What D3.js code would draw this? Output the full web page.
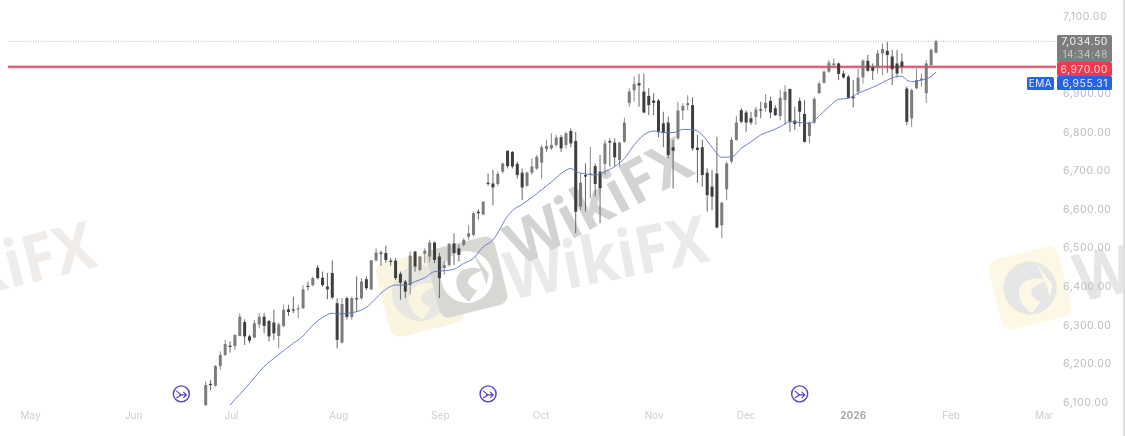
<!DOCTYPE html>
<html><head><meta charset="utf-8">
<style>html,body{margin:0;padding:0;background:#fff;overflow:hidden}svg{display:block;filter:blur(.62px)}</style>
<script src="https://cdn.jsdelivr.net/npm/d3@7"></script></head><body><svg id="c" width="1125" height="436"></svg>
<script>
const opens=[6092,6147,6142,6193,6222,6246,6245,6271,6307,6270,
6267,6301,6321,6310,6306,6271,6297,6340,6340,6340,
6343,6401,6403,6448,6422,6399,6434,6356,6254,6369,
6320,6369,6369,6418,6392,6467,6487,6486,6466,6466,
6432,6412,6403,6490,6442,6484,6477,6513,6477,6447,
6455,6511,6498,6507,6528,6533,6593,6586,6668,6666,
6665,6697,6751,6748,6717,6694,6660,6694,6705,6720,
6755,6757,6766,6786,6766,6802,6776,6606,6688,6688,
6711,6697,6717,6776,6772,6727,6774,6875,6908,6926,
6904,6893,6881,6881,6822,6824,6760,6783,6855,6869,
6869,6759,6760,6694,6658,6692,6558,6651,6723,6779,
6856,6850,6835,6839,6858,6861,6880,6861,6841,6882,
6911,6829,6880,6846,6789,6824,6900,6927,6956,6973,
6977,6951,6943,6891,6904,6941,6984,6967,6967,7003,
7010,6995,6977,6982,6912,6835,6913,6934,6900,6973,7005];
const highs=[6153,6157,6196,6231,6261,6257,6274,6330,6314,6274,
6313,6330,6330,6313,6339,6306,6352,6352,6373,6352,
6403,6412,6425,6455,6438,6434,6467,6369,6369,6373,
6373,6425,6421,6425,6468,6498,6492,6505,6473,6473,
6438,6416,6490,6490,6477,6498,6520,6516,6486,6464,
6511,6537,6507,6524,6558,6593,6599,6620,6692,6701,
6697,6720,6751,6750,6723,6705,6697,6731,6740,6766,
6779,6796,6792,6792,6800,6809,6800,6692,6718,6761,
6718,6740,6779,6783,6783,6774,6837,6913,6943,6950,
6951,6913,6900,6885,6852,6839,6779,6878,6874,6895,
6889,6792,6779,6705,6701,6787,6619,6723,6786,6841,
6861,6856,6852,6865,6878,6898,6891,6869,6908,6921,
6912,6865,6888,6882,6826,6891,6930,6958,6986,6990,
6979,6958,6947,6934,6964,6988,6999,6977,7012,7029,
7033,7012,7012,7003,6917,6912,6964,6951,6986,7016,7038];
const lows=[6090,6130,6140,6183,6219,6228,6235,6270,6248,6252,
6265,6291,6278,6257,6261,6239,6294,6323,6330,6317,
6341,6389,6399,6418,6399,6366,6366,6239,6251,6314,
6313,6334,6365,6390,6390,6464,6453,6461,6453,6416,
6365,6369,6378,6438,6438,6460,6464,6460,6369,6429,
6451,6455,6464,6503,6520,6530,6573,6584,6660,6610,
6660,6692,6705,6705,6679,6623,6658,6688,6701,6679,
6748,6753,6761,6748,6757,6760,6537,6597,6593,6628,
6632,6563,6688,6710,6710,6710,6772,6865,6878,6865,
6848,6843,6843,6786,6760,6731,6653,6779,6831,6856,
6751,6668,6658,6593,6597,6550,6524,6623,6718,6777,
6822,6800,6818,6818,6835,6852,6835,6841,6830,6817,
6800,6805,6813,6772,6770,6820,6898,6925,6953,6967,
6934,6938,6886,6863,6895,6925,6956,6934,6951,6947,
6953,6921,6941,6951,6817,6813,6910,6917,6875,6970,7003];
const closes=[6144,6144,6193,6222,6250,6244,6274,6321,6270,6259,
6304,6321,6297,6270,6278,6301,6339,6333,6337,6343,
6392,6398,6421,6421,6403,6392,6371,6261,6354,6320,
6369,6366,6412,6395,6467,6487,6484,6468,6463,6421,
6409,6386,6479,6451,6477,6492,6513,6468,6421,6455,
6510,6486,6481,6520,6537,6589,6589,6619,6665,6656,
6691,6718,6711,6710,6688,6656,6694,6710,6735,6760,
6763,6766,6785,6757,6796,6770,6593,6668,6684,6692,
6665,6654,6770,6772,6734,6772,6824,6904,6924,6920,
6850,6869,6875,6800,6798,6740,6751,6855,6867,6874,
6757,6753,6688,6636,6632,6552,6616,6718,6779,6824,
6826,6824,6824,6858,6856,6875,6850,6843,6888,6904,
6826,6820,6852,6774,6824,6885,6925,6956,6979,6977,
6950,6941,6888,6887,6940,6984,6958,6958,7003,7014,
6999,6962,6951,6969,6826,6908,6934,6938,6977,7012,7034.5];
const emaBars=[6,7,9,11,13,15,17,19,21,23,25,27,28,30,32,34,36,38,40,42,44,46,48,50,52,54,56,58,60,61,62,64,66,68,70,72,74,76,77,79,81,83,85,87,89,91,93,95,97,99,101,103,105,107,109,111,113,114,115,117,119,121,123,125,127,129,131,133,135,137,139,141,143,144,145,146,148,150,151];
const emaValues=[6092,6106,6133,6163,6192,6213,6233,6252,6271,6299,6319,6330,6328,6330,6334,6345,6369,6392,6403,6403,6412,6422,6438,6440,6444,6459,6472,6502,6520,6538,6562,6596,6612,6630,6650,6670,6692,6705,6697,6691,6688,6697,6710,6731,6766,6792,6802,6798,6798,6806,6806,6792,6760,6734,6735,6757,6774,6783,6792,6802,6813,6826,6824,6822,6841,6865,6884,6887,6900,6910,6921,6934,6943,6944,6934,6930,6934,6943,6955];
const priceTicks=[7100,7000,6900,6800,6700,6600,6500,6400,6300,6200,6100];
const monthLabels=["May","Jun","Jul","Aug","Sep","Oct","Nov","Dec","2026","Feb","Mar"];
const monthBars=[-35.1,-13.9,6.2,28.2,49.1,69.8,93,111.9,133.9,154,173.1];
const eventBars=[-4,59,123];
const eventPrice=6121;
const levelPrice=6970, lastPrice=7034.5, emaLast=6955.31;
const countdown="14:34:48";
const watermark="WikiFX";

const svg=d3.select("#c");
const x=d3.scaleLinear().domain([1,151]).range([205.7,936]);
const y=d3.scaleLinear().domain([6100,7100]).range([402,16]);
const font="Inter, 'Open Sans', sans-serif";
const fmt=d3.format(",.2f");

// watermarks
const wm=svg.append("g").attr("id","watermarks");
function logo(cx,cy,size,bg,fg){
  const g=wm.append("g").attr("transform",`translate(${cx},${cy}) rotate(-14)`);
  g.append("rect").attr("x",-size/2).attr("y",-size/2).attr("width",size).attr("height",size).attr("rx",size*.13).attr("fill",bg);
  const r=size*.37;
  g.append("circle").attr("r",r).attr("fill",fg);
  g.append("path").attr("d",`M${-r*.15},${r*.95} C${-r*.75},${r*.3} ${-r*.45},${-r*.55} ${r*.45},${-r*.25} L${r*.75},${-r*.1} C${r*.1},${-r*.1} ${-r*.3},${r*.2} ${r*.25},${r*.6} Z`).attr("fill",bg);
  g.append("path").attr("d",`M${r*.45},${-r*.85} L${r*.85},${r*.1} L${r*.65},${r*.5} L${r*.6},${-r*.1} Z`).attr("fill",bg);
}
logo(420,293,76,"#faf5e1","#e8e6e0");
logo(467,277,70,"#d8d7d4","#ffffff");
logo(1030,288,72,"#fdf8e6","#e7e6e6");
function wmText(px,py,rot,size,len,col,anchor){
  wm.append("text").attr("transform",`translate(${px},${py}) rotate(${rot})`)
    .attr("text-anchor",anchor||"start").attr("font-family","'Open Sans',sans-serif").attr("font-weight",700)
    .attr("font-size",size).attr("fill",col).attr("textLength",len).attr("lengthAdjust","spacingAndGlyphs").text(watermark);
}
wmText(510,300,-11,66,205,"#ebeaea");
wmText(99,266,-14,66,205,"#efecea","end");
wmText(1080,302,-12,66,205,"#e7e6e5");
wmText(520,267,-28,60,200,"#d4d3d3");

// reference lines
svg.append("line").attr("x1",8).attr("x2",1056).attr("y1",y(lastPrice)).attr("y2",y(lastPrice)).attr("stroke","#bdbdbd").attr("stroke-dasharray","1 1.5");
const lvl=svg.append("g").attr("transform","translate(0,.7)");
lvl.append("line").attr("x1",8).attr("x2",1056).attr("y1",y(levelPrice)).attr("y2",y(levelPrice)).attr("stroke","#f7b9c3").attr("stroke-width",3.4);
lvl.append("line").attr("x1",8).attr("x2",1056).attr("y1",y(levelPrice)).attr("y2",y(levelPrice)).attr("stroke","#d92f4c").attr("stroke-width",1.4);

// axes
const yAxis=d3.axisRight(y).tickValues(priceTicks).tickFormat(fmt).tickSize(0).tickPadding(0);
const ya=svg.append("g").attr("transform","translate(1063,0)").call(yAxis);
ya.select(".domain").remove();
ya.selectAll("text").attr("font-family",font).attr("font-size",10.5).attr("letter-spacing",".5").attr("fill","#bdbdbd");
const xAxis=d3.axisBottom(x).tickValues(monthBars).tickFormat((d,i)=>monthLabels[i]).tickSize(0).tickPadding(0);
const xa=svg.append("g").attr("transform","translate(0,412)").call(xAxis);
xa.select(".domain").remove();
xa.selectAll("text").attr("font-family",font).attr("font-size",10)
  .attr("font-weight",(d,i)=>monthLabels[i]==="2026"?700:400)
  .attr("fill",(d,i)=>monthLabels[i]==="2026"?"#a8a8a8":"#cfcfcf");

// candles
const idx=d3.range(opens.length);
const up="#7c7c7c",down="#3e3e3e";
const cg=svg.append("g").attr("id","candles");
cg.selectAll("line").data(idx).join("line")
  .attr("x1",i=>x(i+1)).attr("x2",i=>x(i+1))
  .attr("y1",i=>y(highs[i])).attr("y2",i=>y(lows[i]))
  .attr("stroke",i=>closes[i]>=opens[i]?"#8a8a8a":"#666").attr("stroke-width",1);
cg.selectAll("rect").data(idx).join("rect")
  .attr("x",i=>x(i+1)-1.5).attr("width",3)
  .attr("y",i=>y(Math.max(opens[i],closes[i])))
  .attr("height",i=>Math.max(1.2,Math.abs(y(opens[i])-y(closes[i]))))
  .attr("fill",i=>closes[i]>=opens[i]?up:down);

// EMA
const line=d3.line().x((d,i)=>x(emaBars[i])).y(d=>y(d)).curve(d3.curveMonotoneX);
svg.append("path").datum(emaValues).attr("d",line).attr("fill","none").attr("stroke","#5a74c0").attr("stroke-width",.9);

// event markers
const ev=svg.append("g").selectAll("g").data(eventBars).join("g").attr("transform",d=>`translate(${x(d)},${y(eventPrice)})`);
ev.append("circle").attr("r",8).attr("fill","#fff").attr("stroke","#5a3fc0").attr("stroke-width",1.4);
ev.append("path").attr("d","M-5,-3 L0,1 L-5,4 M-2,1 L5,1 M2,-2 L5,1 L2,4").attr("fill","none").attr("stroke","#5a3fc0").attr("stroke-width",1.2);

// price tags
function tag(xx,w,top,h,col){svg.append("rect").attr("x",xx).attr("y",top).attr("width",w).attr("height",h).attr("rx",1.5).attr("fill",col);}
function tagText(xx,yy,t,col,anchor,fs){svg.append("text").attr("x",xx).attr("y",yy).attr("text-anchor",anchor||"end").attr("font-family",font).attr("font-size",fs||10.5).attr("letter-spacing",".5").attr("fill",col).text(t);}
tag(1057,55,35,27,"#7d7d7d");
tag(1057,55,62,14,"#ee3a4e");
tag(1057,55,76,14,"#2a63e2");
tag(1027,27,77,13,"#2a63e2");
tagText(1108,45,fmt(lastPrice),"#f0f0f0");
tagText(1108,58,countdown,"#c8c8c8","end",10);
tagText(1108,72.5,fmt(levelPrice),"#ffd5da");
tagText(1108,87,fmt(emaLast),"#e8eefc");
tagText(1040.5,87,"EMA","#e8eefc","middle",10);

// right edge
svg.append("rect").attr("x",1123).attr("y",0).attr("width",2).attr("height",436).attr("fill","#dedede");
</script></body></html>
